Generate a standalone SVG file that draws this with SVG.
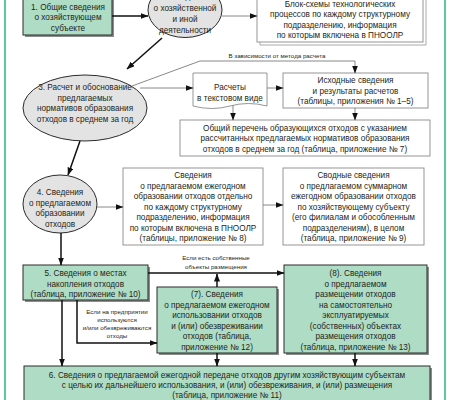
<svg xmlns="http://www.w3.org/2000/svg" width="450" height="400" viewBox="0 0 450 400">
<defs>
<style>
.t{font-family:"Liberation Sans",Arial,sans-serif;font-size:8.2px;fill:#231f20;text-anchor:middle}
.s{font-size:6.2px}
.g{fill:#afdcc5;stroke:#2b2b2b;stroke-width:1}
.sh{fill:#8c8c8c}
.w{fill:#fff;stroke:#8a8a8a;stroke-width:0.9}
.e{fill:#e3e3e3;stroke:#2b2b2b;stroke-width:1}
.thin{stroke:#7a7a7a;stroke-width:0.9;fill:none}
.thick{stroke:#111;stroke-width:1.5;fill:none}
.frame{stroke:#2fbf82;stroke-width:1.6}
</style>
<marker id="a" markerUnits="userSpaceOnUse" markerWidth="8" markerHeight="6" refX="7.5" refY="3" orient="auto">
<path d="M0,0 L8,3 L0,6 Z" fill="#111"/>
</marker>
</defs>
<rect width="450" height="400" fill="#fff"/>
<line class="frame" x1="5" y1="0" x2="5" y2="400"/>
<line class="frame" x1="445" y1="0" x2="445" y2="400"/>

<g id="n1">
<rect class="sh" x="25" y="-6" width="89" height="43"/>
<rect class="g" x="23" y="-8" width="89" height="43"/>
<text class="t" x="68" y="9.5">1. Общие сведения</text>
<text class="t" x="68" y="20">о хозяйствующем</text>
<text class="t" x="68" y="30.5">субъекте</text>
</g>

<g id="n2">
<ellipse class="e" cx="185" cy="10" rx="37" ry="27.5"/>
<text class="t" x="185" y="-1">2. Сведения</text>
<text class="t" x="185" y="10.5">о хозяйственной</text>
<text class="t" x="185" y="22">и иной</text>
<text class="t" x="185" y="33">деятельности</text>
</g>

<g id="nblock">
<path d="M260,42 L260,45 L426,45 L426,-1 L423,-4" fill="none" stroke="#a0a0a0" stroke-width="0.9"/>
<rect class="w" x="257" y="-4" width="166" height="46"/>
<text class="t" x="340" y="6.5">Блок-схемы технологических</text>
<text class="t" x="340" y="17">процессов по каждому структурному</text>
<text class="t" x="340" y="27.5">подразделению, информация</text>
<text class="t" x="340" y="38">по которым включена в ПНООЛР</text>
</g>

<g id="n3">
<ellipse class="e" cx="85" cy="108" rx="62" ry="33"/>
<text class="t" x="85" y="90">3. Расчет и обоснование</text>
<text class="t" x="85" y="100.5">предлагаемых</text>
<text class="t" x="85" y="111">нормативов образования</text>
<text class="t" x="85" y="121.5">отходов в среднем за год</text>
</g>

<g id="ncalc">
<path class="w" d="M193,73 H267 V106 Q248,101 230,106 T193,106 Z"/>
<text class="t" x="230" y="90">Расчеты</text>
<text class="t" x="230" y="100.5">в текстовом виде</text>
</g>

<g id="nsrc">
<rect class="w" x="283" y="73" width="145" height="35"/>
<text class="t" x="355.5" y="83">Исходные сведения</text>
<text class="t" x="355.5" y="93.5">и результаты расчетов</text>
<text class="t" x="355.5" y="104">(таблицы, приложения № 1–5)</text>
</g>

<g id="nlist">
<rect class="w" x="180" y="120" width="250" height="36"/>
<text class="t" x="305" y="130.5">Общий перечень образующихся отходов с указанием</text>
<text class="t" x="305" y="141">рассчитанных предлагаемых нормативов образования</text>
<text class="t" x="305" y="151.5">отходов в среднем за год (таблица, приложение № 7)</text>
</g>

<g id="n4">
<ellipse class="e" cx="60" cy="204" rx="37" ry="29"/>
<text class="t" x="60" y="195">4. Сведения</text>
<text class="t" x="60" y="205.5">о предлагаемом</text>
<text class="t" x="60" y="216">образовании</text>
<text class="t" x="60" y="226.5">отходов</text>
</g>

<g id="n8info">
<rect class="w" x="123" y="168" width="140" height="77"/>
<text class="t" x="193" y="178">Сведения</text>
<text class="t" x="193" y="188.5">о предлагаемом ежегодном</text>
<text class="t" x="193" y="199">образовании отходов отдельно</text>
<text class="t" x="193" y="209.5">по каждому структурному</text>
<text class="t" x="193" y="220">подразделению, информация</text>
<text class="t" x="193" y="230.5">по которым включена в ПНООЛР</text>
<text class="t" x="193" y="241">(таблицы, приложение № 8)</text>
</g>

<g id="n9">
<rect class="w" x="283" y="168" width="141" height="77"/>
<text class="t" x="353.5" y="178">Сводные сведения</text>
<text class="t" x="353.5" y="188.5">о предлагаемом суммарном</text>
<text class="t" x="353.5" y="199">ежегодном образовании отходов</text>
<text class="t" x="353.5" y="209.5">по хозяйствующему субъекту</text>
<text class="t" x="353.5" y="220">(его филиалам и обособленным</text>
<text class="t" x="353.5" y="230.5">подразделениям), в целом</text>
<text class="t" x="353.5" y="241">(таблица, приложение № 9)</text>
</g>

<g id="n5">
<rect class="sh" x="25" y="267" width="125" height="35"/>
<rect class="g" x="23" y="265" width="125" height="35"/>
<text class="t" x="85.5" y="276">5. Сведения о местах</text>
<text class="t" x="85.5" y="286.5">накопления отходов</text>
<text class="t" x="85.5" y="297">(таблица, приложение № 10)</text>
</g>

<g id="n7">
<rect class="sh" x="159" y="289" width="120" height="66"/>
<rect class="g" x="157" y="287" width="120" height="66"/>
<text class="t" x="217" y="297">(7). Сведения</text>
<text class="t" x="217" y="307.5">о предлагаемом ежегодном</text>
<text class="t" x="217" y="318">использовании отходов</text>
<text class="t" x="217" y="328.5">и (или) обезвреживании</text>
<text class="t" x="217" y="339">отходов (таблица,</text>
<text class="t" x="217" y="349.5">приложение № 12)</text>
</g>

<g id="n8">
<rect class="sh" x="286" y="267" width="143" height="88"/>
<rect class="g" x="284" y="265" width="143" height="88"/>
<text class="t" x="355.5" y="276">(8). Сведения</text>
<text class="t" x="355.5" y="286.5">о предлагаемом</text>
<text class="t" x="355.5" y="297">размещении отходов</text>
<text class="t" x="355.5" y="307.5">на самостоятельно</text>
<text class="t" x="355.5" y="318">эксплуатируемых</text>
<text class="t" x="355.5" y="328.5">(собственных) объектах</text>
<text class="t" x="355.5" y="339">размещения отходов</text>
<text class="t" x="355.5" y="349.5">(таблица, приложение № 13)</text>
</g>

<g id="n6">
<rect class="sh" x="26" y="368" width="406" height="40"/>
<rect class="g" x="24" y="366" width="406" height="40"/>
<text class="t" x="227" y="378">6. Сведения о предлагаемой ежегодной передаче отходов другим хозяйствующим субъектам</text>
<text class="t" x="227" y="388">с целью их дальнейшего использования, и (или) обезвреживания, и (или) размещения</text>
<text class="t" x="227" y="398">(таблица, приложение № 11)</text>
</g>

<g id="connectors">
<line class="thick" x1="112" y1="16" x2="148" y2="16" marker-end="url(#a)"/>
<line class="thin" x1="222" y1="16" x2="257" y2="16" marker-end="url(#a)"/>
<line class="thick" x1="162" y1="38" x2="127" y2="69" marker-end="url(#a)"/>
<polyline class="thin" points="132,86 200,61 355,61 355,73" marker-end="url(#a)"/>
<text class="t s" x="277" y="58">В зависимости от метода расчета</text>
<line class="thin" x1="140" y1="88" x2="193" y2="88" marker-end="url(#a)"/>
<line class="thin" x1="267" y1="88" x2="283" y2="88" marker-end="url(#a)"/>
<line class="thin" x1="233" y1="105" x2="233" y2="120" marker-end="url(#a)"/>
<line class="thin" x1="355" y1="108" x2="355" y2="120" marker-end="url(#a)"/>
<line class="thick" x1="80" y1="141" x2="68" y2="175" marker-end="url(#a)"/>
<line class="thin" x1="97" y1="207" x2="123" y2="207" marker-end="url(#a)"/>
<line class="thin" x1="263" y1="205" x2="283" y2="205" marker-end="url(#a)"/>
<line class="thick" x1="61" y1="233" x2="61" y2="265" marker-end="url(#a)"/>
<line class="thick" x1="148" y1="273" x2="284" y2="273" marker-end="url(#a)"/>
<line class="thick" x1="217" y1="287" x2="217" y2="274" marker-end="url(#a)"/>
<text class="t s" x="216" y="260">Если есть собственные</text>
<text class="t s" x="216" y="268.5">объекты размещения</text>
<polyline class="thick" points="77,300 77,343 157,343" marker-end="url(#a)"/>
<text class="t s" x="117" y="314">Если на предприятии</text>
<text class="t s" x="117" y="322">используются</text>
<text class="t s" x="117" y="330">и/или обезвреживаются</text>
<text class="t s" x="117" y="338">отходы</text>
<line class="thick" x1="62" y1="300" x2="62" y2="366" marker-end="url(#a)"/>
<line class="thick" x1="217" y1="353" x2="217" y2="366" marker-end="url(#a)"/>
<line class="thick" x1="355" y1="353" x2="355" y2="366" marker-end="url(#a)"/>
</g>
</svg>
